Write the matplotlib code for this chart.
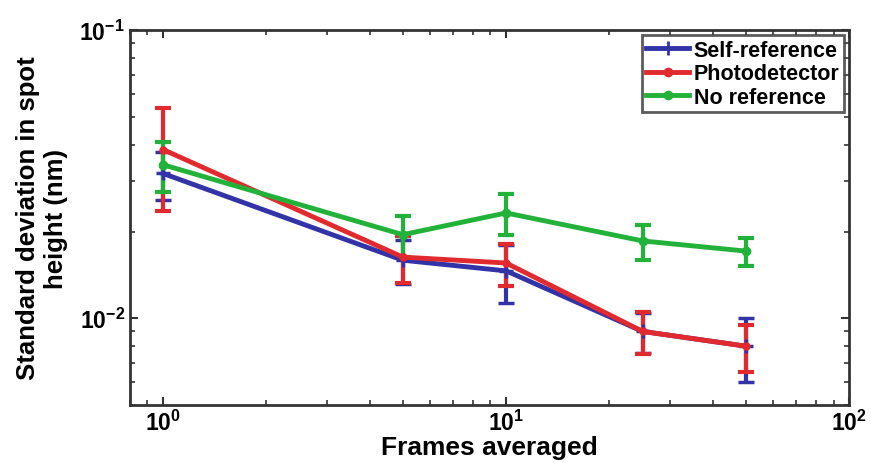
import matplotlib
matplotlib.use("Agg")
import matplotlib.pyplot as plt
from matplotlib.ticker import LogLocator, NullFormatter
from matplotlib.lines import Line2D

plt.rcParams['font.family'] = ['Liberation Sans', 'DejaVu Sans']
plt.rcParams['font.weight'] = 'bold'
plt.rcParams['mathtext.fontset'] = 'custom'
plt.rcParams['mathtext.rm'] = 'Liberation Sans:bold'
plt.rcParams['mathtext.default'] = 'rm'

frames = [1, 5, 10, 25, 50]
self_ref = [0.0318, 0.0159, 0.0146, 0.0090, 0.0080]
self_ref_err = [0.0060, 0.0028, 0.0033, 0.0014, 0.0020]
photo = [0.0385, 0.0163, 0.01555, 0.0090, 0.0080]
photo_err = [0.0150, 0.0030, 0.0026, 0.0015, 0.0015]
noref = [0.0341, 0.0195, 0.0232, 0.01855, 0.0171]
noref_err = [0.0067, 0.0032, 0.0037, 0.0026, 0.0019]
labels = ["Self-reference", "Photodetector", "No reference"]

fig = plt.figure(figsize=(8.71, 4.64), dpi=100)
ax = fig.add_axes([0.149, 0.125, 0.826, 0.808])

blue = '#3333a8'
red = '#e02a2e'
green = '#22b23a'
kw = dict(lw=3.5, elinewidth=3, capsize=6, capthick=3)
ax.errorbar(frames, self_ref, yerr=self_ref_err, color=blue, marker='+', ms=10, mew=2.5, **kw)
ax.errorbar(frames, photo, yerr=photo_err, color=red, marker='.', ms=10, **kw)
ax.errorbar(frames, noref, yerr=noref_err, color=green, marker='.', ms=12, **kw)

ax.set_xscale('log')
ax.set_yscale('log')
ax.set_xlim(0.8, 100)
ax.set_ylim(0.005, 0.1)
ax.xaxis.set_major_locator(LogLocator(base=10, numticks=10))
ax.yaxis.set_major_locator(LogLocator(base=10, numticks=10))
ax.xaxis.set_minor_locator(LogLocator(base=10, subs=range(2, 10), numticks=20))
ax.yaxis.set_minor_locator(LogLocator(base=10, subs=range(2, 10), numticks=20))
ax.xaxis.set_minor_formatter(NullFormatter())
ax.yaxis.set_minor_formatter(NullFormatter())
ax.tick_params(which='both', direction='in', top=True, right=True, colors='#333333', labelcolor='black', labelsize=16.5)
ax.tick_params(which='major', length=6, width=1.5)
ax.tick_params(which='minor', length=3.5, width=1.2)
for s in ax.spines.values():
    s.set_linewidth(2)
    s.set_color('#333333')

ax.set_xlabel('Frames averaged', fontsize=19, fontweight='bold', labelpad=0)
ax.set_ylabel('Standard deviation in spot\nheight (nm)', fontsize=18.5, fontweight='bold', labelpad=8)

handles = [
    Line2D([], [], color=blue, lw=3.5, marker='+', ms=10, mew=2),
    Line2D([], [], color=red, lw=3.5, marker='.', ms=12),
    Line2D([], [], color=green, lw=3.5, marker='.', ms=12),
]
leg = ax.legend(handles, labels, loc='upper right', fontsize=15.5, frameon=True, fancybox=False,
                borderaxespad=0.25, handlelength=2.0, handletextpad=0.2, borderpad=0.2, labelspacing=0.12)
leg.get_frame().set_edgecolor('#333333')
leg.get_frame().set_linewidth(2)
for t in leg.get_texts():
    t.set_fontweight('bold')

fig.savefig('out.png', dpi=100)
